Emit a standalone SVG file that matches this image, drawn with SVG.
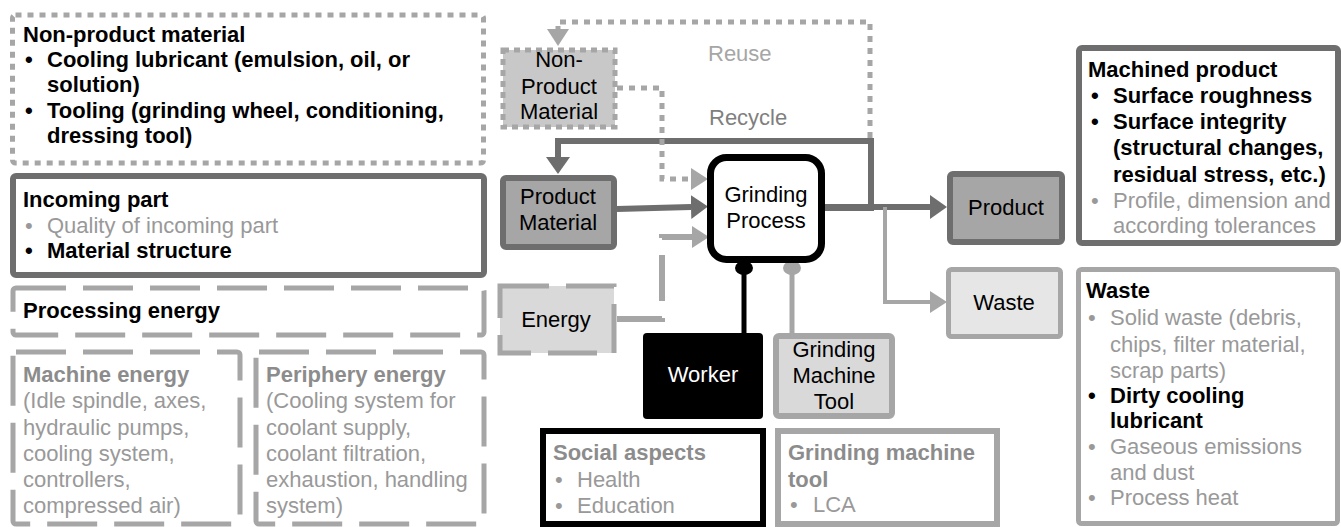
<svg xmlns="http://www.w3.org/2000/svg" width="1341" height="527" viewBox="0 0 1341 527">
<style>
text{font-family:"Liberation Sans",Arial,sans-serif;font-size:22px}
.b{font-weight:bold;fill:#000}
.k{fill:#000}
.g{fill:#999}
.gb{font-weight:bold;fill:#8c8c8c}
.c{text-anchor:middle}
.dot{fill:none;stroke:#a6a6a6;stroke-width:5;stroke-dasharray:6 6}
.dash{fill:none;stroke:#a6a6a6;stroke-width:5;stroke-dasharray:50 17}
.dk{fill:none;stroke:#6e6e6e;stroke-width:6}
.lt{fill:none;stroke:#a6a6a6;stroke-width:6}
</style>
<defs>
<marker id="aDk" markerUnits="userSpaceOnUse" markerWidth="20" markerHeight="26" refX="0" refY="12" orient="auto"><path d="M0,0 L17,12 L0,24 z" fill="#6e6e6e"/></marker>
<marker id="aLt" markerUnits="userSpaceOnUse" markerWidth="20" markerHeight="26" refX="0" refY="11" orient="auto"><path d="M0,0 L17,11 L0,22 z" fill="#a6a6a6"/></marker>
</defs>

<!-- Left information panels -->
<g id="panel-nonproduct">
<rect class="dot" x="12.5" y="15" width="471" height="148" rx="3"/>
<text class="b" x="23" y="42">Non-product material</text>
<text class="b" x="25" y="67">•</text><text class="b" x="47" y="67">Cooling lubricant (emulsion, oil, or</text>
<text class="b" x="47" y="92">solution)</text>
<text class="b" x="25" y="118">•</text><text class="b" x="47" y="118">Tooling (grinding wheel, conditioning,</text>
<text class="b" x="47" y="143">dressing tool)</text>
</g>
<g id="panel-incoming">
<rect class="dk" x="13" y="176" width="471" height="99" rx="3"/>
<text class="b" x="23" y="207">Incoming part</text>
<text class="g" x="25" y="233">•</text><text class="g" x="47" y="233">Quality of incoming part</text>
<text class="b" x="25" y="258">•</text><text class="b" x="47" y="258">Material structure</text>
</g>
<g id="panel-processing">
<rect class="dash" x="13" y="288" width="471" height="47" rx="3"/>
<text class="b" x="23" y="318">Processing energy</text>
</g>
<g id="panel-machine">
<rect class="dash" x="13" y="352" width="227" height="172" rx="3"/>
<text class="gb" x="23" y="382">Machine energy</text>
<text class="g" x="23" y="408">(Idle spindle, axes,</text>
<text class="g" x="23" y="435">hydraulic pumps,</text>
<text class="g" x="23" y="461">cooling system,</text>
<text class="g" x="23" y="487">controllers,</text>
<text class="g" x="23" y="513">compressed air)</text>
</g>
<g id="panel-periphery">
<rect class="dash" x="256" y="352" width="228" height="172" rx="3"/>
<text class="gb" x="266" y="382">Periphery energy</text>
<text class="g" x="266" y="408">(Cooling system for</text>
<text class="g" x="266" y="435">coolant supply,</text>
<text class="g" x="266" y="461">coolant filtration,</text>
<text class="g" x="266" y="487">exhaustion, handling</text>
<text class="g" x="266" y="513">system)</text>
</g>

<!-- Connectors -->
<g id="connectors">
<!-- Reuse -->
<path class="dot" d="M870,138 V22 H558 V29" marker-end="url(#aLt)"/>
<!-- Recycle -->
<path class="dk" d="M825,208 H871 V141 H558 V157" marker-end="url(#aDk)"/>
<!-- Grinding -> Product -->
<path class="dk" d="M825,207 H930" marker-end="url(#aDk)"/>
<!-- Waste -->
<path fill="none" stroke="#a6a6a6" stroke-width="4" d="M885,207 V302 H930" marker-end="url(#aLt)"/>
<!-- Non-product material -> Grinding -->
<path class="dot" d="M617,88 H662 V179 H691" marker-end="url(#aLt)"/>
<!-- Product material -> Grinding -->
<path class="dk" d="M617,209 L691,207" marker-end="url(#aDk)"/>
<!-- Energy -> Grinding -->
<path fill="none" stroke="#a6a6a6" stroke-width="6" stroke-dasharray="46 17" d="M617,319 H662 V237 H692" marker-end="url(#aLt)"/>
<!-- Worker -->
<line x1="744" y1="333" x2="744" y2="268" stroke="#000" stroke-width="5"/>
<ellipse cx="744" cy="268" rx="9" ry="7" fill="#000"/>
<!-- Grinding machine tool -->
<line x1="792" y1="333" x2="792" y2="268" stroke="#a6a6a6" stroke-width="5"/>
<ellipse cx="792" cy="268" rx="9" ry="7" fill="#a6a6a6"/>
<text x="708" y="61" fill="#a6a6a6">Reuse</text>
<text x="709" y="125" fill="#7f7f7f">Recycle</text>
</g>

<!-- Center nodes -->
<g id="node-nonproduct-material">
<rect x="503" y="50" width="112" height="77" fill="#c8c8c8" stroke="#a6a6a6" stroke-width="5" stroke-dasharray="6 5"/>
<text class="k c" x="559" y="67">Non-</text>
<text class="k c" x="559" y="94">Product</text>
<text class="k c" x="559" y="119">Material</text>
</g>
<g id="node-product-material">
<rect x="503" y="178" width="111" height="69" rx="3" fill="#a6a6a6" stroke="#6e6e6e" stroke-width="6"/>
<text class="k c" x="558" y="204">Product</text>
<text class="k c" x="558" y="230">Material</text>
</g>
<g id="node-grinding-process">
<rect x="710.5" y="157.5" width="111" height="102" rx="16" fill="#fff" stroke="#000" stroke-width="7"/>
<text class="k c" x="766" y="202">Grinding</text>
<text class="k c" x="766" y="228">Process</text>
</g>
<g id="node-energy">
<rect x="500" y="286" width="114" height="67" fill="#d9d9d9" stroke="#a6a6a6" stroke-width="5" stroke-dasharray="49 17"/>
<text class="k c" x="556" y="327">Energy</text>
</g>
<g id="node-worker">
<rect x="643" y="333" width="120" height="86" rx="4" fill="#000"/>
<text class="c" x="703" y="382" fill="#fff">Worker</text>
</g>
<g id="node-grinding-machine-tool">
<rect x="776" y="336" width="116" height="80" rx="3" fill="#d9d9d9" stroke="#a6a6a6" stroke-width="6"/>
<text class="k c" x="834" y="357">Grinding</text>
<text class="k c" x="834" y="383">Machine</text>
<text class="k c" x="834" y="409">Tool</text>
</g>
<g id="node-product">
<rect x="950" y="174" width="112" height="68" rx="3" fill="#a6a6a6" stroke="#6e6e6e" stroke-width="6"/>
<text class="k c" x="1006" y="215">Product</text>
</g>
<g id="node-waste">
<rect x="948.5" y="269.5" width="112" height="67" rx="3" fill="#e6e6e6" stroke="#a6a6a6" stroke-width="5"/>
<text class="k c" x="1004" y="310">Waste</text>
</g>

<!-- Bottom panels -->
<g id="panel-social">
<rect x="543" y="431" width="220" height="93" fill="none" stroke="#000" stroke-width="6"/>
<text class="gb" x="553" y="460">Social aspects</text>
<text class="g" x="555" y="487">•</text><text class="g" x="577" y="487">Health</text>
<text class="g" x="555" y="513">•</text><text class="g" x="577" y="513">Education</text>
</g>
<g id="panel-machine-tool">
<rect x="778" y="431" width="219" height="93" fill="none" stroke="#a6a6a6" stroke-width="6"/>
<text class="gb" x="788" y="460">Grinding machine</text>
<text class="gb" x="788" y="487">tool</text>
<text class="g" x="790" y="512">•</text><text class="g" x="813" y="512">LCA</text>
</g>

<!-- Right panels -->
<g id="panel-machined-product">
<rect x="1079" y="48" width="259" height="195" rx="3" fill="none" stroke="#6e6e6e" stroke-width="6"/>
<text class="b" x="1088" y="77">Machined product</text>
<text class="b" x="1091" y="103">•</text><text class="b" x="1113" y="103">Surface roughness</text>
<text class="b" x="1091" y="129">•</text><text class="b" x="1113" y="129">Surface integrity</text>
<text class="b" x="1113" y="155">(structural changes,</text>
<text class="b" x="1113" y="182">residual stress, etc.)</text>
<text class="g" x="1091" y="208">•</text><text class="g" x="1113" y="208">Profile, dimension and</text>
<text class="g" x="1113" y="233">according tolerances</text>
</g>
<g id="panel-waste">
<rect x="1078.5" y="269.5" width="259" height="254" rx="3" fill="none" stroke="#a6a6a6" stroke-width="5"/>
<text class="b" x="1086" y="298">Waste</text>
<text class="g" x="1088" y="325">•</text><text class="g" x="1110" y="325">Solid waste (debris,</text>
<text class="g" x="1110" y="352">chips, filter material,</text>
<text class="g" x="1110" y="378">scrap parts)</text>
<text class="b" x="1088" y="403">•</text><text class="b" x="1110" y="403">Dirty cooling</text>
<text class="b" x="1110" y="428">lubricant</text>
<text class="g" x="1088" y="454">•</text><text class="g" x="1110" y="454">Gaseous emissions</text>
<text class="g" x="1110" y="480">and dust</text>
<text class="g" x="1088" y="505">•</text><text class="g" x="1110" y="505">Process heat</text>
</g>
</svg>
